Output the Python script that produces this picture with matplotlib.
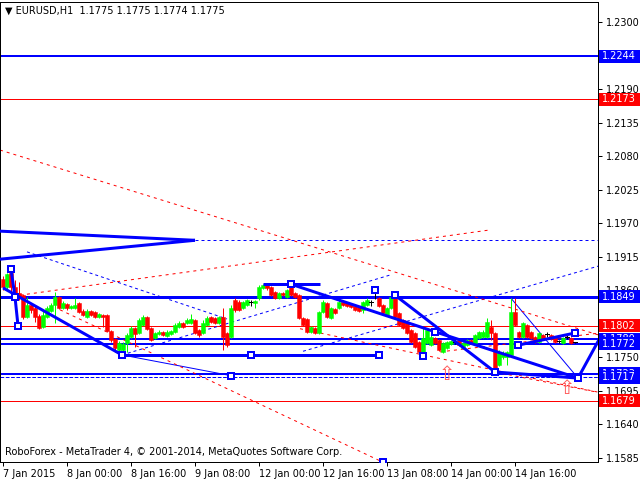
import matplotlib
matplotlib.use('Agg')
import matplotlib.pyplot as plt
from matplotlib.patches import Rectangle

opens = [1.1879,1.1865,1.1888,1.1865,1.1856,1.1852,1.1816,1.1836,1.1831,1.1818,
         1.1800,1.1816,1.1826,1.1836,1.1849,1.1831,1.1838,1.1831,1.1831,1.1839,
         1.1826,1.1816,1.1826,1.1824,1.1816,1.1820,1.1820,1.1793,1.1780,1.1762,
         1.1762,1.1774,1.1783,1.1798,1.1790,1.1803,1.1816,1.1798,1.1782,1.1788,
         1.1792,1.1785,1.1788,1.1792,1.1800,1.1806,1.1806,1.1806,1.1811,1.1795,
         1.1790,1.1803,1.1816,1.1815,1.1806,1.1816,1.1790,1.1783,1.1844,1.1841,
         1.1831,1.1836,1.1841,1.1839,1.1847,1.1864,1.1869,1.1865,1.1857,1.1847,
         1.1856,1.1849,1.1869,1.1856,1.1852,1.1815,1.1813,1.1792,1.1798,1.1790,
         1.1824,1.1839,1.1815,1.1829,1.1831,1.1841,1.1839,1.1838,1.1834,1.1833,
         1.1828,1.1836,1.1841,1.1856,1.1847,1.1836,1.1820,1.1831,1.1852,1.1823,
         1.1811,1.1808,1.1795,1.1790,1.1775,1.1759,1.1774,1.1770,1.1782,1.1779,
         1.1759,1.1765,1.1772,1.1775,1.1779,1.1765,1.1770,1.1779,1.1774,1.1782,
         1.1783,1.1783,1.1800,1.1790,1.1738,1.1751,1.1751,1.1754,1.1824,1.1792,
         1.1783,1.1803,1.1792,1.1783,1.1775,1.1787,1.1788,1.1787,1.1782,1.1777,
         1.1774,1.1783,1.1782,1.1775]
highs = [1.1883,1.1888,1.1897,1.1877,1.1874,1.1854,1.1849,1.1839,1.1836,1.1821,
         1.1828,1.1834,1.1839,1.1857,1.1851,1.1842,1.1839,1.1836,1.1847,1.1841,
         1.1829,1.1829,1.1828,1.1826,1.1823,1.1821,1.1821,1.1795,1.1782,1.1777,
         1.1775,1.1790,1.1801,1.1800,1.1815,1.1820,1.1818,1.1800,1.1792,1.1795,
         1.1793,1.1795,1.1795,1.1806,1.1810,1.1808,1.1815,1.1821,1.1813,1.1797,
         1.1811,1.1818,1.1818,1.1816,1.1818,1.1831,1.1792,1.1836,1.1847,1.1844,
         1.1842,1.1846,1.1844,1.1844,1.1869,1.1870,1.1870,1.1867,1.1859,1.1857,
         1.1857,1.1862,1.1872,1.1857,1.1854,1.1816,1.1815,1.1801,1.1800,1.1826,
         1.1844,1.1841,1.1833,1.1831,1.1844,1.1842,1.1841,1.1839,1.1836,1.1834,
         1.1842,1.1847,1.1844,1.1857,1.1849,1.1838,1.1833,1.1852,1.1854,1.1824,
         1.1813,1.1810,1.1797,1.1792,1.1777,1.1798,1.1798,1.1787,1.1783,1.1780,
         1.1775,1.1777,1.1779,1.1780,1.1780,1.1775,1.1780,1.1780,1.1788,1.1793,
         1.1795,1.1815,1.1811,1.1792,1.1762,1.1761,1.1761,1.1847,1.1847,1.1793,
         1.1808,1.1805,1.1793,1.1785,1.1792,1.1788,1.1792,1.1788,1.1783,1.1779,
         1.1783,1.1787,1.1783,1.1775]
lows = [1.1861,1.1862,1.1857,1.1849,1.1844,1.1813,1.1815,1.1823,1.1808,1.1797,
        1.1798,1.1815,1.1824,1.1806,1.1829,1.1829,1.1828,1.1829,1.1829,1.1823,
        1.1818,1.1815,1.1818,1.1815,1.1815,1.1800,1.1792,1.1775,1.1759,1.1752,
        1.1751,1.1759,1.1782,1.1767,1.1788,1.1801,1.1795,1.1777,1.1780,1.1787,
        1.1785,1.1783,1.1787,1.1790,1.1798,1.1798,1.1805,1.1805,1.1788,1.1783,
        1.1788,1.1801,1.1806,1.1805,1.1805,1.1762,1.1767,1.1782,1.1824,1.1826,
        1.1829,1.1834,1.1834,1.1831,1.1844,1.1862,1.1861,1.1851,1.1846,1.1846,
        1.1851,1.1847,1.1851,1.1847,1.1813,1.1801,1.1790,1.1790,1.1788,1.1788,
        1.1823,1.1815,1.1813,1.1821,1.1829,1.1834,1.1833,1.1831,1.1826,1.1824,
        1.1823,1.1834,1.1834,1.1846,1.1833,1.1821,1.1818,1.1829,1.1815,1.1801,
        1.1797,1.1788,1.1774,1.1765,1.1757,1.1751,1.1772,1.1769,1.1772,1.1761,
        1.1757,1.1764,1.1770,1.1772,1.1769,1.1764,1.1769,1.1772,1.1772,1.1780,
        1.1782,1.1782,1.1779,1.1726,1.1736,1.1747,1.1738,1.1752,1.1801,1.1782,
        1.1782,1.1782,1.1780,1.1774,1.1774,1.1780,1.1783,1.1779,1.1774,1.1774,
        1.1772,1.1780,1.1772,1.1774]
closes = [1.1865,1.1887,1.1865,1.1852,1.1847,1.1816,1.1836,1.1828,1.1816,1.1798,
          1.1820,1.1831,1.1836,1.1849,1.1831,1.1839,1.1831,1.1834,1.1836,1.1824,
          1.1820,1.1826,1.1820,1.1816,1.1821,1.1816,1.1793,1.1779,1.1765,1.1774,
          1.1772,1.1787,1.1798,1.1788,1.1811,1.1816,1.1797,1.1779,1.1790,1.1792,
          1.1787,1.1792,1.1793,1.1803,1.1806,1.1800,1.1811,1.1813,1.1790,1.1787,
          1.1806,1.1815,1.1808,1.1806,1.1816,1.1783,1.1770,1.1831,1.1828,1.1828,
          1.1841,1.1844,1.1841,1.1842,1.1865,1.1869,1.1864,1.1852,1.1847,1.1856,
          1.1852,1.1861,1.1852,1.1849,1.1815,1.1803,1.1792,1.1800,1.1790,1.1824,
          1.1841,1.1816,1.1831,1.1823,1.1841,1.1836,1.1834,1.1833,1.1828,1.1826,
          1.1841,1.1844,1.1841,1.1856,1.1834,1.1823,1.1831,1.1849,1.1816,1.1803,
          1.1798,1.1790,1.1775,1.1767,1.1759,1.1782,1.1795,1.1783,1.1774,1.1762,
          1.1774,1.1775,1.1777,1.1775,1.1770,1.1774,1.1779,1.1774,1.1787,1.1792,
          1.1792,1.1808,1.1790,1.1733,1.1759,1.1757,1.1759,1.1824,1.1803,1.1783,
          1.1806,1.1783,1.1782,1.1775,1.1790,1.1782,1.1788,1.1780,1.1775,1.1777,
          1.1782,1.1783,1.1774,1.1775]

time_labels = ['7 Jan 2015', '8 Jan 00:00', '8 Jan 16:00', '9 Jan 08:00', '12 Jan 00:00',
               '12 Jan 16:00', '13 Jan 08:00', '14 Jan 00:00', '14 Jan 16:00']
time_label_bars = [0, 16, 32, 48, 64, 80, 96, 112, 128]
price_ticks = [1.1585, 1.1640, 1.1695, 1.1750, 1.1805, 1.1860, 1.1915, 1.1970,
               1.2025, 1.2080, 1.2135, 1.2190, 1.2245, 1.2300]
hidden_ticks = [1.1805, 1.2245]

# horizontal levels: price, colour, width(px), style
levels = [(1.2244, '#0000ff', 2, '-'), (1.2173, '#ff0000', 1, '-'),
          (1.1849, '#0000ff', 3, '-'), (1.1802, '#ff0000', 1, '-'),
          (1.1780, '#0000ff', 2, '-'), (1.1772, '#0000ff', 2, '-'),
          (1.1723, '#0000ff', 2, '-'), (1.1717, '#0000ff', 1, '--'),
          (1.1679, '#ff0000', 1, '-')]
box_levels = [(1.2244, '#0000ff'), (1.2173, '#ff0000'), (1.1849, '#0000ff'),
              (1.1802, '#ff0000'), (1.1780, '#0000ff'), (1.1772, '#0000ff'),
              (1.1723, '#0000ff'), (1.1717, '#0000ff'), (1.1679, '#ff0000')]

# thick wave lines (bar, price)
thick_lines = [
    [(-0.75, 1.1957), (48, 1.1942)],
    [(-0.75, 1.1911), (48, 1.1942)],
    [(0, 1.1864), (29.75, 1.1754)],
    [(29.75, 1.1754), (94.25, 1.1754)],
    [(65, 1.1870), (79.25, 1.1870)],
    [(2, 1.1895), (3, 1.1849), (3.75, 1.1802)],
    [(72, 1.1870), (108, 1.1792), (143.75, 1.1716)],
    [(98, 1.1852), (123, 1.1726), (143.75, 1.1716), (149.25, 1.1782)],
    [(128.75, 1.1770), (143, 1.1790)],
]
squares = [(2, 1.1895), (3, 1.1849), (3.75, 1.1802), (29.75, 1.1754), (62, 1.1754),
           (94, 1.1754), (72, 1.1870), (108, 1.1792), (93, 1.1861), (98, 1.1852),
           (105, 1.1752), (123, 1.1726), (143.75, 1.1716), (128.75, 1.1770),
           (143, 1.1790), (57, 1.1720), (95, 1.1578)]
thin_lines = [
    [(127, 1.1847), (143.75, 1.1716)],
    [(29.75, 1.1754), (57, 1.1720)],
]
blue_dashed = [
    [(48, 1.1942), (149, 1.1942)],
    [(6, 1.1923), (56, 1.1813)],
    [(29.75, 1.1754), (96.75, 1.1885)],
    [(75, 1.1760), (149, 1.1900)],
]
red_dotted = [
    [(4.25, 1.1852), (121.75, 1.1959)],
    [(14.25, 1.1828), (95, 1.1578)],
    [(-0.75, 1.2090), (148.75, 1.1787)],
    [(74.25, 1.1797), (148.75, 1.1693)],
    [(109.25, 1.1759), (149.25, 1.1790)],
    [(123, 1.1726), (149.25, 1.1692)],
]
arrows = [(111, 1.1722), (141, 1.1699)]

PX = 72 / 100.0  # points per pixel
FW, FH = 640, 480

fig = plt.figure(figsize=(6.4, 4.8), dpi=100)
ax = fig.add_axes([0 / FW, 18 / FH, 598 / FW, 460 / FH])
ax.set_xlim(-0.75, 148.75)
ax.set_ylim(1.15784, 1.23328)

for p, c, w, s in levels:
    ax.axhline(p, color=c, lw=w * PX, ls=s, zorder=2)

for ln in thin_lines:
    xs, ys = zip(*ln)
    ax.plot(xs, ys, color='#0000ff', lw=1 * PX, zorder=2)
for ln in blue_dashed:
    xs, ys = zip(*ln)
    ax.plot(xs, ys, color='#0000ff', lw=1 * PX, ls=(0, (3, 3)), zorder=2)
for ln in red_dotted:
    xs, ys = zip(*ln)
    ax.plot(xs, ys, color='#ff0000', lw=1 * PX, ls=(0, (3, 4)), zorder=2)

for k in range(len(opens)):
    o, h, l, c = opens[k], highs[k], lows[k], closes[k]
    if c > o:
        col = '#00ff00'
    elif c < o:
        col = '#ff0000'
    else:
        col = '#000000'
    ax.plot([k, k], [l, h], color=col, lw=1 * PX, zorder=3, solid_capstyle='butt')
    if c == o:
        ax.plot([k - 0.4, k + 0.4], [o, o], color=col, lw=1 * PX, zorder=3)
    else:
        ax.add_patch(Rectangle((k - 0.38, min(o, c)), 0.76, abs(c - o),
                               facecolor=col, edgecolor=col, lw=0.5 * PX, zorder=3))

for ln in thick_lines:
    xs, ys = zip(*ln)
    ax.plot(xs, ys, color='#0000ff', lw=3 * PX, zorder=4, solid_capstyle='butt')
for sx, sy in squares:
    ax.plot(sx, sy, marker='s', ms=6 * PX, mfc='white', mec='#0000ff', mew=2 * PX, zorder=5)
for ax_, ay_ in arrows:
    ax.text(ax_, ay_, '\u21e7', color='#ff5a5a', fontsize=14, ha='center', va='center',
            family='DejaVu Sans', zorder=6)

for s in ax.spines.values():
    s.set_color('black')
    s.set_linewidth(1 * PX)

ax.yaxis.tick_right()
ax.set_yticks(price_ticks)
ax.set_yticklabels(['' if p in hidden_ticks else '%.4f' % p for p in price_ticks],
                   fontsize=7, family='DejaVu Sans')
ax.tick_params(axis='y', length=3, width=1 * PX, pad=3)
ax.set_xticks(time_label_bars)
ax.set_xticklabels(time_labels, fontsize=7, family='DejaVu Sans', ha='left')
ax.tick_params(axis='x', length=3, width=1 * PX, pad=2)

# right price boxes (drawn in figure pixels), each later box covers earlier
y0, y1 = 1.15784, 1.23328
for i, (p, c) in enumerate(box_levels):
    ypix = 18 + 460 * (p - y0) / (y1 - y0)
    fig.patches.append(Rectangle((599 / FW, (ypix - 6.5) / FH), 41 / FW, 13 / FH,
                                 transform=fig.transFigure, facecolor=c, edgecolor='none',
                                 zorder=10 + 2 * i))
    fig.text(602 / FW, ypix / FH, '%.4f' % p, fontsize=7, color='white', va='center',
             ha='left', family='DejaVu Sans', zorder=11 + 2 * i)

fig.text(5 / FW, 1 - 11 / FH, '\u25bc EURUSD,H1  1.1775 1.1775 1.1774 1.1775',
         fontsize=7, va='center', ha='left', family='DejaVu Sans')
ax.text(5 / 598, 1 - (452 - 2) / 460, 'RoboForex - MetaTrader 4, \u00a9 2001-2014, MetaQuotes Software Corp.',
        transform=ax.transAxes, fontsize=7, va='center', ha='left', family='DejaVu Sans')

fig.savefig('out.png', dpi=100, facecolor='white')
